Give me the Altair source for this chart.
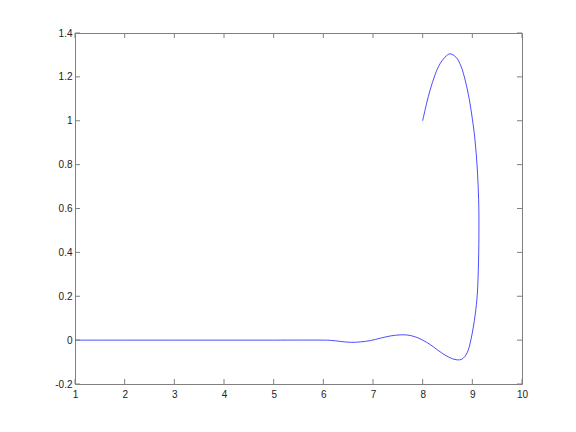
import altair as alt
import pandas as pd

# curve points (parametric, in drawing order)
xs = [1.0, 2.0, 3.0, 4.0, 5.0, 6.0, 6.15, 6.35, 6.55, 6.75, 6.95, 7.15, 7.35, 7.55,
      7.7, 7.85, 8.0, 8.15, 8.3, 8.45, 8.6, 8.7, 8.78, 8.85, 8.91, 8.97, 9.02, 9.06,
      9.10, 9.125, 9.133, 9.127, 9.10, 9.05, 8.98, 8.92, 8.85, 8.77, 8.67, 8.55,
      8.45, 8.35, 8.25, 8.15, 8.08, 8.0]
ys = [0.0, 0.0, 0.0, 0.0, 0.0, 0.0, -0.001, -0.006, -0.010, -0.008, -0.002, 0.009,
      0.019, 0.024, 0.023, 0.015, 0.0, -0.02, -0.045, -0.068, -0.085, -0.09, -0.088,
      -0.075, -0.05, 0.0, 0.06, 0.12, 0.21, 0.36, 0.52, 0.64, 0.78, 0.92, 1.04, 1.12,
      1.19, 1.25, 1.29, 1.305, 1.29, 1.26, 1.21, 1.14, 1.08, 1.0]

x_ticks = [1, 2, 3, 4, 5, 6, 7, 8, 9, 10]
y_ticks = [-0.2, 0, 0.2, 0.4, 0.6, 0.8, 1, 1.2, 1.4]

W, H = 447, 351
AXC = "#808080"
TICK = 5

df = pd.DataFrame({"x": xs, "y": ys, "i": list(range(len(xs)))})
dfx = pd.DataFrame({"t": x_ticks})
dfy = pd.DataFrame({"t": y_ticks})

xsc = alt.Scale(domain=[1, 10], nice=False, zero=False)
ysc = alt.Scale(domain=[-0.2, 1.4], nice=False, zero=False)

xax = alt.Axis(values=x_ticks, grid=False, domain=False, ticks=False,
               labelFlush=False, labelOverlap=False, labelPadding=5,
               labelFontSize=10, labelFont="Liberation Sans", labelColor="#222222")
yax = alt.Axis(values=y_ticks, grid=False, domain=False, ticks=False,
               labelFlush=False, labelOverlap=False, labelPadding=3,
               labelExpr="'' + datum.value",
               labelFontSize=10, labelFont="Liberation Sans", labelColor="#222222")

line = alt.Chart(df).mark_line(color="#0000ff", strokeWidth=0.7, interpolate="catmull-rom").encode(
    x=alt.X("x:Q", scale=xsc, title=None, axis=xax),
    y=alt.Y("y:Q", scale=ysc, title=None, axis=yax),
    order="i:Q",
)

xb = alt.Chart(dfx).mark_rule(color=AXC, strokeWidth=1).encode(
    x=alt.X("t:Q", scale=xsc, title=None, axis=xax), y=alt.value(H), y2=alt.value(H - TICK))
xt = alt.Chart(dfx).mark_rule(color=AXC, strokeWidth=1).encode(
    x=alt.X("t:Q", scale=xsc, title=None, axis=xax), y=alt.value(0), y2=alt.value(TICK))
yl = alt.Chart(dfy).mark_rule(color=AXC, strokeWidth=1).encode(
    y=alt.Y("t:Q", scale=ysc, title=None, axis=yax), x=alt.value(0), x2=alt.value(TICK))
yr = alt.Chart(dfy).mark_rule(color=AXC, strokeWidth=1).encode(
    y=alt.Y("t:Q", scale=ysc, title=None, axis=yax), x=alt.value(W), x2=alt.value(W - TICK))

chart = alt.layer(line, xb, xt, yl, yr).properties(
    width=W, height=H,
    autosize=alt.AutoSizeParams(type="none"),
    padding={"left": 67, "top": 25, "right": 10, "bottom": 30},
).configure_view(stroke=AXC, strokeWidth=1)

chart.save("out.html", embed_options={"renderer": "svg", "actions": False})
